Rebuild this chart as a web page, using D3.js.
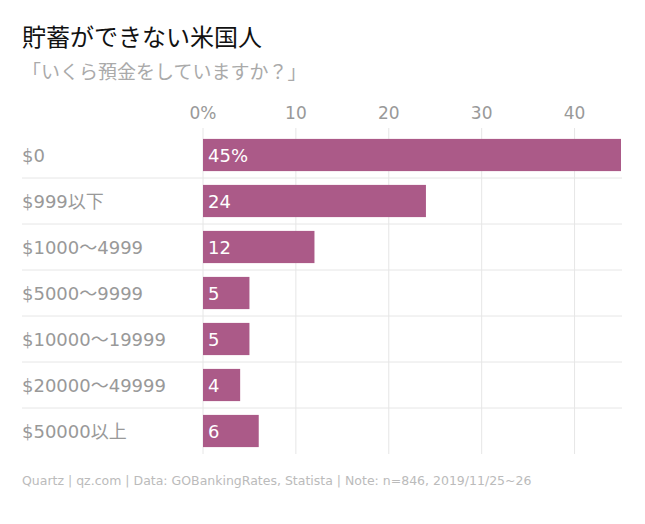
<!DOCTYPE html>
<html><head><meta charset="utf-8">
<script src="https://cdn.jsdelivr.net/npm/d3@7"></script>
<style>body{margin:0;background:#fff;font-family:"DejaVu Sans","Noto Sans CJK JP",sans-serif;}</style>
</head><body><div id="chart"></div>
<script>
// データ
const categories = ["$0", "$999以下", "$1000～4999", "$5000～9999", "$10000～19999", "$20000～49999", "$50000以上"];
const values = [45, 24, 12, 5, 5, 4, 6];
const tickValues = [0, 10, 20, 30, 40];

const W = 645, H = 524;
const svg = d3.select("#chart").append("svg").attr("width", W).attr("height", H);

// タイトル
svg.append("text").attr("x", 22).attr("y", 46).text("貯蓄ができない米国人")
    .style("font-size", "24px").attr("fill", "#111");
svg.append("text").attr("x", 22).attr("y", 79).text("「いくら預金をしていますか？」")
    .style("font-size", "19px").attr("fill", "#aaa");

const x = d3.scaleLinear().domain([0, 45]).range([203, 621]);
const y = d3.scaleBand().domain(categories).range([132, 454]).paddingInner(0.3).paddingOuter(0.15);

// グリッド
svg.selectAll(".grid").data(tickValues).enter().append("line")
    .attr("x1", d => x(d)).attr("x2", d => x(d))
    .attr("y1", 128).attr("y2", 454)
    .attr("stroke", "#e6e6e6");
svg.selectAll(".sep").data(categories.slice(1)).enter().append("line")
    .attr("x1", 22).attr("x2", 622)
    .attr("y1", d => y(d) - y.step() * y.paddingInner() / 2)
    .attr("y2", d => y(d) - y.step() * y.paddingInner() / 2)
    .attr("stroke", "#e6e6e6");

svg.selectAll(".tick").data(tickValues).enter().append("text")
    .attr("x", d => x(d)).attr("y", 119).attr("text-anchor", "middle")
    .text(d => d === 0 ? "0%" : d)
    .style("font-size", "17px").attr("fill", "#999");

// バー
svg.selectAll(".bar").data(values).enter().append("rect")
    .attr("x", x(0)).attr("y", (d, i) => y(categories[i]))
    .attr("width", d => x(d) - x(0)).attr("height", y.bandwidth())
    .attr("fill", "#ab5a88");
svg.selectAll(".val").data(values).enter().append("text")
    .attr("x", x(0) + 5).attr("y", (d, i) => y(categories[i]) + y.bandwidth() / 2 + 7)
    .text((d, i) => i === 0 ? d + "%" : d)
    .style("font-size", "18px").attr("fill", "#fff");
svg.selectAll(".cat").data(categories).enter().append("text")
    .attr("x", 22).attr("y", d => y(d) + y.bandwidth() / 2 + 7)
    .text(d => d).style("font-size", "18px").attr("fill", "#999");

svg.append("text").attr("x", 22).attr("y", 485)
    .text("Quartz | qz.com | Data: GOBankingRates, Statista | Note: n=846, 2019/11/25~26")
    .style("font-size", "12.5px").attr("fill", "#bbb");
</script></body></html>
